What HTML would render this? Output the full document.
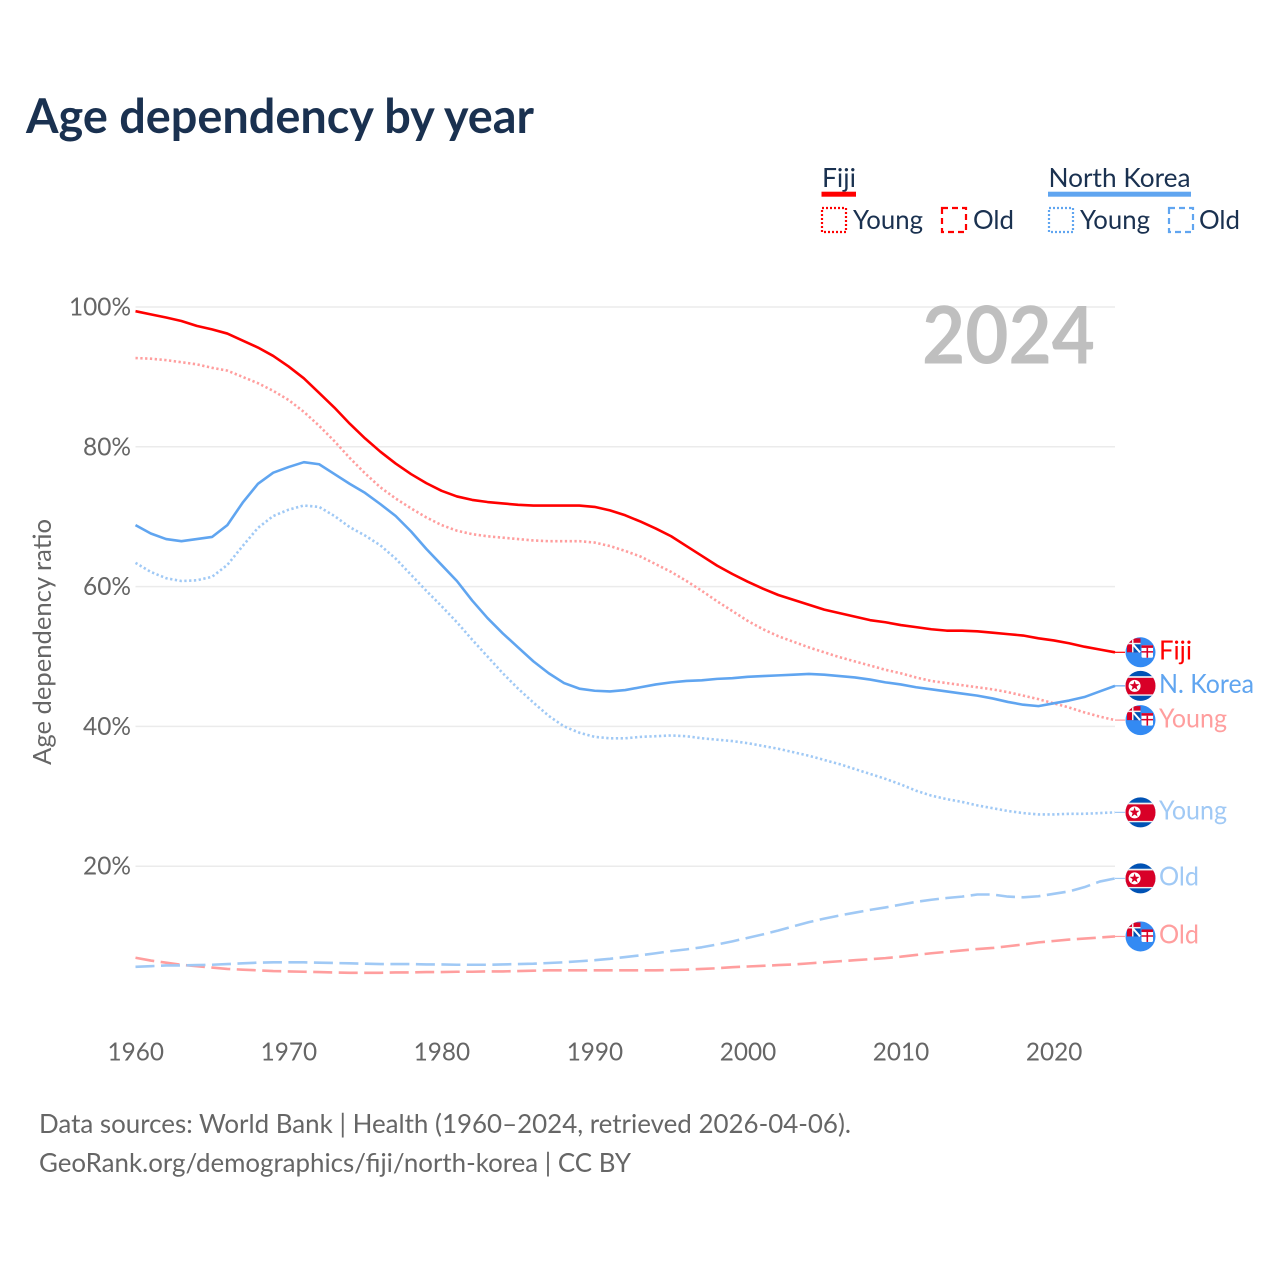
<!DOCTYPE html>
<html lang="en">
<head>
<meta charset="utf-8">
<title>Age dependency by year</title>
<style>
html,body{margin:0;padding:0;background:#fff;}
svg{display:block;font-family:"Lato","Carlito","Liberation Sans",sans-serif;}
</style>
</head>
<body>
<svg id="chart" xmlns="http://www.w3.org/2000/svg" width="1280" height="1280" viewBox="0 0 1280 1280">
  <rect x="0" y="0" width="1280" height="1280" fill="#ffffff"/>
  <text x="26" y="133" font-size="48" font-weight="700" fill="#1a3150" textLength="508" lengthAdjust="spacingAndGlyphs">Age dependency by year</text>

  <g font-size="26" fill="#1a3150">
    <text x="822" y="187" textLength="34" lengthAdjust="spacingAndGlyphs">Fiji</text>
    <rect x="821.5" y="191.7" width="34.5" height="5" fill="#ff0000"/>
    <rect x="822" y="208" width="24" height="24" fill="none" stroke="#ff0000" stroke-width="2.2" stroke-dasharray="2 2"/>
    <text x="853" y="229" textLength="70" lengthAdjust="spacingAndGlyphs">Young</text>
    <rect x="942" y="208" width="24" height="24" fill="none" stroke="#ff0000" stroke-width="2.2" stroke-dasharray="6 4"/>
    <text x="973" y="229" textLength="41" lengthAdjust="spacingAndGlyphs">Old</text>

    <text x="1048.5" y="187" textLength="142" lengthAdjust="spacingAndGlyphs">North Korea</text>
    <rect x="1048" y="191.7" width="143" height="5" fill="#60a5f0"/>
    <rect x="1049" y="208" width="24" height="24" fill="none" stroke="#60a5f0" stroke-width="2.2" stroke-dasharray="2 2"/>
    <text x="1080" y="229" textLength="70" lengthAdjust="spacingAndGlyphs">Young</text>
    <rect x="1169" y="208" width="24" height="24" fill="none" stroke="#60a5f0" stroke-width="2.2" stroke-dasharray="6 4"/>
    <text x="1199" y="229" textLength="41" lengthAdjust="spacingAndGlyphs">Old</text>
  </g>

  <g id="grid"></g>
  <g id="yticks"></g>
  <g id="xticks"></g>
  <text transform="translate(51,642) rotate(-90)" text-anchor="middle" font-size="25" fill="#666666" textLength="246" lengthAdjust="spacingAndGlyphs">Age dependency ratio</text>
  <text x="922" y="363.5" font-size="80" font-weight="700" fill="#bfbfbf" textLength="173" lengthAdjust="spacingAndGlyphs">2024</text>

  <g id="series"></g>
  <g id="ends"></g>

  <text x="39" y="1133" font-size="26" fill="#666666" textLength="812" lengthAdjust="spacingAndGlyphs">Data sources: World Bank | Health (1960–2024, retrieved 2026-04-06).</text>
  <text x="39" y="1172" font-size="26" fill="#666666" textLength="592" lengthAdjust="spacingAndGlyphs">GeoRank.org/demographics/fiji/north-korea | CC BY</text>
</svg>
<script>
const years = [1960,1961,1962,1963,1964,1965,1966,1967,1968,1969,1970,1971,1972,1973,1974,1975,1976,1977,1978,1979,1980,1981,1982,1983,1984,1985,1986,1987,1988,1989,1990,1991,1992,1993,1994,1995,1996,1997,1998,1999,2000,2001,2002,2003,2004,2005,2006,2007,2008,2009,2010,2011,2012,2013,2014,2015,2016,2017,2018,2019,2020,2021,2022,2023,2024];
const fijiTotal = [99.4,98.95,98.5,98.0,97.3,96.8,96.2,95.2,94.2,93.0,91.5,89.8,87.7,85.6,83.3,81.2,79.3,77.6,76.1,74.8,73.7,72.9,72.4,72.1,71.9,71.7,71.6,71.6,71.6,71.6,71.4,70.9,70.2,69.3,68.3,67.2,65.8,64.4,63.0,61.8,60.7,59.7,58.8,58.1,57.4,56.7,56.2,55.7,55.2,54.9,54.5,54.2,53.9,53.7,53.7,53.6,53.4,53.2,53.0,52.6,52.3,51.9,51.4,51.0,50.6];
const fijiYoung = [92.7,92.6,92.4,92.1,91.8,91.3,90.9,90.0,89.1,88.0,86.7,85.0,83.0,80.8,78.4,76.2,74.2,72.6,71.2,69.9,68.8,68.0,67.5,67.2,67.0,66.8,66.6,66.5,66.5,66.5,66.3,65.8,65.1,64.3,63.2,62.1,60.8,59.4,57.9,56.5,55.1,53.9,52.9,52.1,51.3,50.6,49.9,49.3,48.7,48.1,47.6,47.0,46.5,46.2,45.9,45.6,45.3,44.9,44.4,43.9,43.3,42.7,42.0,41.4,40.9];
const fijiOld = [6.9,6.5,6.2,5.9,5.7,5.5,5.3,5.2,5.1,5.0,4.95,4.9,4.85,4.8,4.75,4.75,4.75,4.8,4.8,4.85,4.85,4.9,4.9,4.95,4.95,5.0,5.05,5.1,5.1,5.1,5.1,5.1,5.1,5.1,5.1,5.15,5.2,5.3,5.4,5.55,5.65,5.75,5.85,5.95,6.1,6.25,6.4,6.55,6.7,6.85,7.05,7.3,7.55,7.75,7.95,8.15,8.3,8.55,8.8,9.1,9.3,9.5,9.65,9.8,9.95];
const koreaTotal = [68.8,67.6,66.8,66.5,66.8,67.1,68.8,72.0,74.7,76.3,77.1,77.8,77.5,76.1,74.7,73.4,71.8,70.1,67.9,65.4,63.1,60.8,58.0,55.5,53.3,51.3,49.3,47.6,46.2,45.4,45.1,45.0,45.2,45.6,46.0,46.3,46.5,46.6,46.8,46.9,47.1,47.2,47.3,47.4,47.5,47.4,47.2,47.0,46.7,46.3,46.0,45.6,45.3,45.0,44.7,44.4,44.0,43.5,43.1,42.9,43.3,43.7,44.2,45.0,45.8];
const koreaYoung = [63.4,62.1,61.2,60.8,60.9,61.4,63.1,65.8,68.4,70.1,71.0,71.6,71.4,70.1,68.5,67.3,65.9,64.0,61.7,59.4,57.2,54.9,52.4,50.0,47.6,45.4,43.4,41.5,40.0,39.1,38.5,38.3,38.3,38.5,38.6,38.7,38.6,38.3,38.1,37.9,37.6,37.2,36.8,36.3,35.8,35.2,34.6,33.9,33.2,32.5,31.7,30.8,30.1,29.6,29.2,28.7,28.3,27.9,27.6,27.4,27.4,27.5,27.5,27.6,27.7];
const koreaOld = [5.6,5.7,5.8,5.8,5.85,5.9,6.0,6.1,6.2,6.25,6.25,6.25,6.2,6.15,6.1,6.05,6.0,6.0,6.0,5.95,5.95,5.9,5.9,5.9,5.95,6.0,6.05,6.15,6.25,6.4,6.55,6.75,7.0,7.25,7.55,7.85,8.1,8.4,8.8,9.25,9.75,10.25,10.8,11.4,12.0,12.5,12.95,13.35,13.75,14.1,14.5,14.9,15.2,15.45,15.65,15.95,15.95,15.65,15.55,15.7,16.05,16.4,17.0,17.8,18.25];
const yTickValues = [100,80,60,40,20];
const yTickLabels = ["100%","80%","60%","40%","20%"];
const xTickValues = [1960,1970,1980,1990,2000,2010,2020];
const xTickLabels = ["1960","1970","1980","1990","2000","2010","2020"];

const NS = 'http://www.w3.org/2000/svg';
const X0 = 135.5, X1 = 1115, YEAR0 = 1960, YEAR1 = 2024;
const Y100 = 307, PX_PER_PCT = 6.99;
const FLAG_X = 1140.5;
function xScale(year){ return X0 + (year - YEAR0) * (X1 - X0) / (YEAR1 - YEAR0); }
function yScale(v){ return Y100 + (100 - v) * PX_PER_PCT; }
function make(tag, parent, attrs){
  const el = document.createElementNS(NS, tag);
  for (const k in attrs) el.setAttribute(k, attrs[k]);
  parent.appendChild(el);
  return el;
}

const gridG = document.getElementById('grid');
const yG = document.getElementById('yticks');
yTickValues.forEach(function(v, i){
  const line = make('line', gridG, {x1: X0, x2: X1, y1: yScale(v), y2: yScale(v), stroke: '#ebebeb', 'stroke-width': 1.5});
  
  
  const label = yTickLabels[i];
  const t = make('text', yG, {x: 131, y: yScale(v) + 8.5, 'text-anchor': 'end', 'font-size': 25, fill: '#666666', textLength: (label.length - 1) * 14 + 20, lengthAdjust: 'spacingAndGlyphs'});
  t.textContent = label;
  
  
});

const xG = document.getElementById('xticks');
xTickValues.forEach(function(v, i){
  const t = make('text', xG, {x: xScale(v) + 0.3, y: 1060.5, 'text-anchor': 'middle', 'font-size': 25, fill: '#666666', textLength: 56.5, lengthAdjust: 'spacingAndGlyphs'});
  t.textContent = xTickLabels[i];
  
  
});

const seriesList = [
  {id: 'fiji-old', values: fijiOld, color: '#ff9e9e', width: 2.6, dash: '19 6.5', flag: 'fiji', label: 'Old', labelWidth: 40},
  {id: 'north-korea-old', values: koreaOld, color: '#a0c9f5', width: 2.6, dash: '19 6.5', flag: 'korea', label: 'Old', labelWidth: 40},
  {id: 'north-korea-young', values: koreaYoung, color: '#a0c9f5', width: 2.6, dash: '2.3 2.5', flag: 'korea', label: 'Young', labelWidth: 68},
  {id: 'fiji-young', values: fijiYoung, color: '#ff9e9e', width: 2.6, dash: '2.3 2.5', flag: 'fiji', label: 'Young', labelWidth: 68},
  {id: 'north-korea-total', values: koreaTotal, color: '#60a5f0', width: 2.6, dash: '', flag: 'korea', label: 'N. Korea', labelWidth: 95},
  {id: 'fiji-total', values: fijiTotal, color: '#ff0000', width: 2.6, dash: '', flag: 'fiji', label: 'Fiji', labelWidth: 33}
];

function drawKorea(g, cx, cy, clipId){
  const inner = make('g', g, {'clip-path': 'url(#' + clipId + ')'});
  make('rect', inner, {x: cx - 16, y: cy - 16, width: 32, height: 32, fill: '#0052b4'});
  make('rect', inner, {x: cx - 16, y: cy - 9.7, width: 32, height: 19.6, fill: '#f0f0f0'});
  make('rect', inner, {x: cx - 16, y: cy - 8, width: 32, height: 16.5, fill: '#d80027'});
  make('circle', inner, {cx: cx - 5.9, cy: cy, r: 6, fill: '#ffffff'});
  const pts = [];
  for (let i = 0; i < 10; i++) {
    const r = i % 2 ? 2.1 : 5.2, a = -Math.PI / 2 + i * Math.PI / 5;
    pts.push((cx - 5.9 + r * Math.cos(a)).toFixed(2) + ',' + (cy + r * Math.sin(a)).toFixed(2));
  }
  make('polygon', inner, {points: pts.join(' '), fill: '#d80027'});
}
function drawFiji(g, cx, cy, clipId){
  const inner = make('g', g, {'clip-path': 'url(#' + clipId + ')'});
  make('rect', inner, {x: cx - 16, y: cy - 16, width: 32, height: 32, fill: '#338af3'});
  make('rect', inner, {x: cx - 13.5, y: cy - 14, width: 13.5, height: 14, fill: '#d80027'});
  make('rect', inner, {x: cx - 8, y: cy - 9, width: 8, height: 9, fill: '#0052b4'});
  make('rect', inner, {x: cx - 13.5, y: cy - 9.5, width: 13.5, height: 1.5, fill: '#f0f0f0'});
  make('rect', inner, {x: cx - 8.5, y: cy - 14, width: 1.5, height: 14, fill: '#f0f0f0'});
  make('line', inner, {x1: cx - 8, y1: cy - 8.5, x2: cx - 0.5, y2: cy, stroke: '#ffffff', 'stroke-width': 2});
  make('rect', inner, {x: cx + 1, y: cy - 7, width: 11.5, height: 12.5, rx: 1.5, fill: '#ffffff'});
  make('rect', inner, {x: cx + 1, y: cy - 7, width: 11.5, height: 2.6, fill: '#d80027'});
  make('rect', inner, {x: cx + 6, y: cy - 4.4, width: 1.6, height: 9.9, fill: '#d80027'});
  make('rect', inner, {x: cx + 1, y: cy - 1.2, width: 11.5, height: 1.5, fill: '#d80027'});
}

const seriesG = document.getElementById('series');
const endsG = document.getElementById('ends');
seriesList.forEach(function(s, idx){
  const d = s.values.map(function(v, i){
    return (i ? 'L' : 'M') + xScale(years[i]).toFixed(2) + ' ' + yScale(v).toFixed(2);
  }).join(' ');
  const path = make('path', seriesG, {d: d, fill: 'none', stroke: s.color, 'stroke-width': s.width, 'stroke-linejoin': 'round'});
  if (s.dash) path.setAttribute('stroke-dasharray', s.dash);
  
  

  const lastY = yScale(s.values[s.values.length - 1]);
  const g = make('g', endsG, {});
  
  
  make('line', g, {x1: X1, x2: 1125, y1: lastY, y2: lastY, stroke: s.color, 'stroke-width': 1.2});
  const clipId = 'flag-clip-' + idx;
  const clip = make('clipPath', g, {id: clipId});
  make('circle', clip, {cx: FLAG_X, cy: lastY, r: 15});
  const flag = make('g', g, {});
  
  
  if (s.flag === 'fiji') drawFiji(flag, FLAG_X, lastY, clipId); else drawKorea(flag, FLAG_X, lastY, clipId);
  const t = make('text', g, {x: 1159, y: lastY + 7.2, 'font-size': 26, fill: s.color, textLength: s.labelWidth, lengthAdjust: 'spacingAndGlyphs'});
  t.textContent = s.label;
  
  
});
</script>
</body>
</html>
